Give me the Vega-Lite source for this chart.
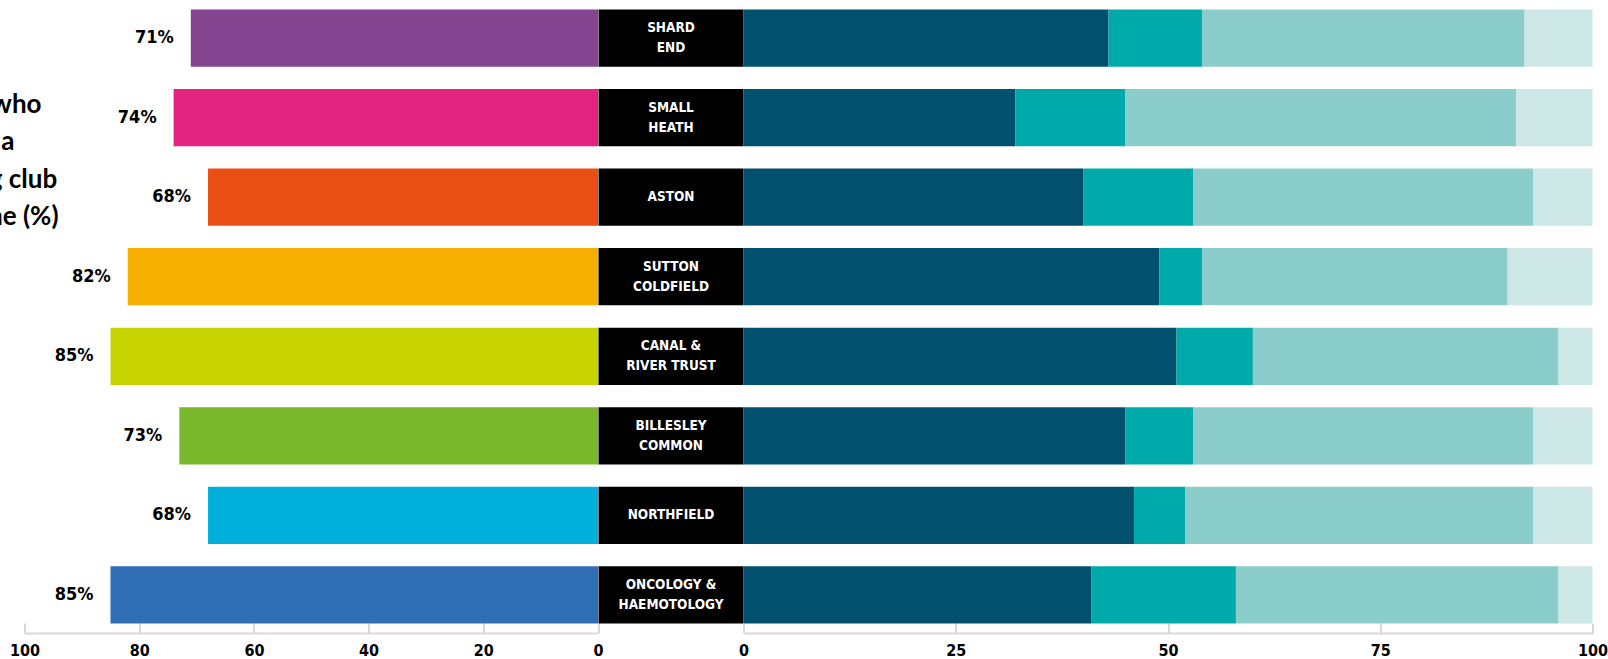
{
  "$schema": "https://vega.github.io/schema/vega-lite/v6.json",
  "autosize": {"type": "none"},
  "padding": {"left": 24.5, "top": 0, "right": 1583.5, "bottom": 659},
  "background": "white",
  "spacing": 0,
  "bounds": "flush",
  "resolve": {"scale": {"color": "independent", "x": "independent"}},
  "config": {
    "view": {"stroke": null},
    "concat": {"spacing": 0},
    "axisX": {
      "grid": false,
      "domainColor": "#d9d9d9",
      "domainWidth": 2,
      "tickColor": "#d9d9d9",
      "tickWidth": 2,
      "tickSize": -10,
      "labelFont": "Liberation Sans Narrow, DejaVu Sans Condensed, sans-serif",
      "labelFontWeight": "bold",
      "labelFontSize": 16,
      "labelColor": "#000000",
      "labelPadding": 19,
      "labelFlush": false,
      "title": null
    }
  },
  "datasets": {
    "sites": [
      {"site": "SHARD END", "label": "SHARD\nEND", "pct": 71},
      {"site": "SMALL HEATH", "label": "SMALL\nHEATH", "pct": 74},
      {"site": "ASTON", "label": "ASTON", "pct": 68},
      {"site": "SUTTON COLDFIELD", "label": "SUTTON\nCOLDFIELD", "pct": 82},
      {"site": "CANAL & RIVER TRUST", "label": "CANAL &\nRIVER TRUST", "pct": 85},
      {"site": "BILLESLEY COMMON", "label": "BILLESLEY\nCOMMON", "pct": 73},
      {"site": "NORTHFIELD", "label": "NORTHFIELD", "pct": 68},
      {"site": "ONCOLOGY & HAEMOTOLOGY", "label": "ONCOLOGY &\nHAEMOTOLOGY", "pct": 85}
    ],
    "split": [
      {"site": "SHARD END", "cat": "Group 1", "value": 43},
      {"site": "SHARD END", "cat": "Group 2", "value": 11},
      {"site": "SHARD END", "cat": "Group 3", "value": 38},
      {"site": "SHARD END", "cat": "Group 4", "value": 8},
      {"site": "SMALL HEATH", "cat": "Group 1", "value": 32},
      {"site": "SMALL HEATH", "cat": "Group 2", "value": 13},
      {"site": "SMALL HEATH", "cat": "Group 3", "value": 46},
      {"site": "SMALL HEATH", "cat": "Group 4", "value": 9},
      {"site": "ASTON", "cat": "Group 1", "value": 40},
      {"site": "ASTON", "cat": "Group 2", "value": 13},
      {"site": "ASTON", "cat": "Group 3", "value": 40},
      {"site": "ASTON", "cat": "Group 4", "value": 7},
      {"site": "SUTTON COLDFIELD", "cat": "Group 1", "value": 49},
      {"site": "SUTTON COLDFIELD", "cat": "Group 2", "value": 5},
      {"site": "SUTTON COLDFIELD", "cat": "Group 3", "value": 36},
      {"site": "SUTTON COLDFIELD", "cat": "Group 4", "value": 10},
      {"site": "CANAL & RIVER TRUST", "cat": "Group 1", "value": 51},
      {"site": "CANAL & RIVER TRUST", "cat": "Group 2", "value": 9},
      {"site": "CANAL & RIVER TRUST", "cat": "Group 3", "value": 36},
      {"site": "CANAL & RIVER TRUST", "cat": "Group 4", "value": 4},
      {"site": "BILLESLEY COMMON", "cat": "Group 1", "value": 45},
      {"site": "BILLESLEY COMMON", "cat": "Group 2", "value": 8},
      {"site": "BILLESLEY COMMON", "cat": "Group 3", "value": 40},
      {"site": "BILLESLEY COMMON", "cat": "Group 4", "value": 7},
      {"site": "NORTHFIELD", "cat": "Group 1", "value": 46},
      {"site": "NORTHFIELD", "cat": "Group 2", "value": 6},
      {"site": "NORTHFIELD", "cat": "Group 3", "value": 41},
      {"site": "NORTHFIELD", "cat": "Group 4", "value": 7},
      {"site": "ONCOLOGY & HAEMOTOLOGY", "cat": "Group 1", "value": 41},
      {"site": "ONCOLOGY & HAEMOTOLOGY", "cat": "Group 2", "value": 17},
      {"site": "ONCOLOGY & HAEMOTOLOGY", "cat": "Group 3", "value": 38},
      {"site": "ONCOLOGY & HAEMOTOLOGY", "cat": "Group 4", "value": 4}
    ]
  },
  "hconcat": [
    {
      "width": 573.5,
      "height": 633,
      "data": {"name": "sites"},
      "encoding": {
        "y": {
          "field": "site", "type": "nominal", "sort": null,
          "scale": {"paddingInner": 0.28, "paddingOuter": 0.12},
          "axis": {
            "labels": false, "ticks": false, "domain": false,
            "title": ["Share of participants who", "were regularly part of a", "local running or hiking club", "prior to the programme (%)"],
            "titleAngle": 0,
            "titleAlign": "left",
            "titleBaseline": "alphabetic",
            "titleX": -278,
            "titleY": 112,
            "titleLineHeight": 37.5,
            "titleFont": "Lato",
            "titleFontSize": 26,
            "titleFontWeight": "bold",
            "titleColor": "#000000"
          }
        },
        "x": {
          "field": "pct", "type": "quantitative",
          "scale": {"domain": [0, 100], "reverse": true},
          "axis": {"values": [0, 20, 40, 60, 80, 100]}
        }
      },
      "layer": [
        {
          "mark": {"type": "bar"},
          "encoding": {
            "color": {
              "field": "site", "type": "nominal", "sort": null, "legend": null,
              "scale": {
                "domain": ["SHARD END", "SMALL HEATH", "ASTON", "SUTTON COLDFIELD", "CANAL & RIVER TRUST", "BILLESLEY COMMON", "NORTHFIELD", "ONCOLOGY & HAEMOTOLOGY"],
                "range": ["#84448F", "#E2237F", "#E94E12", "#F8B000", "#C8D400", "#78B82A", "#00B0DA", "#2F6DB5"]
              }
            }
          }
        },
        {
          "mark": {
            "type": "text", "align": "right", "baseline": "middle", "dx": -17,
            "font": "Liberation Sans Narrow, DejaVu Sans Condensed, sans-serif",
            "fontWeight": "bold", "fontSize": 18, "color": "#000000",
            "text": {"expr": "datum.pct + '%'"}
          }
        }
      ]
    },
    {
      "width": 145,
      "height": 633,
      "data": {"name": "sites"},
      "encoding": {
        "y": {
          "field": "site", "type": "nominal", "sort": null,
          "scale": {"paddingInner": 0.28, "paddingOuter": 0.12},
          "axis": null
        }
      },
      "layer": [
        {
          "mark": {"type": "bar", "color": "#000000"},
          "encoding": {
            "x": {"datum": 0, "type": "quantitative", "scale": {"domain": [0, 1]}, "axis": null},
            "x2": {"datum": 1}
          }
        },
        {
          "mark": {
            "type": "text", "align": "center", "baseline": "middle",
            "lineBreak": "\n", "lineHeight": 20,
            "dy": {"expr": "indexof(datum.label, '\\n') >= 0 ? -10 : 0"},
            "font": "Liberation Sans Narrow, DejaVu Sans Condensed, sans-serif",
            "fontWeight": "bold", "fontSize": 13.5, "color": "#ffffff"
          },
          "encoding": {
            "x": {"datum": 0.5, "type": "quantitative", "scale": {"domain": [0, 1]}, "axis": null},
            "text": {"field": "label"}
          }
        }
      ]
    },
    {
      "width": 849,
      "height": 633,
      "data": {"name": "split"},
      "mark": {"type": "bar"},
      "encoding": {
        "y": {
          "field": "site", "type": "nominal", "sort": null,
          "scale": {"paddingInner": 0.28, "paddingOuter": 0.12},
          "axis": null
        },
        "x": {
          "field": "value", "type": "quantitative", "stack": "zero",
          "scale": {"domain": [0, 100]},
          "axis": {"values": [0, 25, 50, 75, 100]}
        },
        "color": {
          "field": "cat", "type": "nominal", "legend": null,
          "sort": ["Group 1", "Group 2", "Group 3", "Group 4"],
          "scale": {
            "domain": ["Group 1", "Group 2", "Group 3", "Group 4"],
            "range": ["#00506E", "#00AAAA", "#8ACDCB", "#CDE7E7"]
          }
        }
      }
    }
  ]
}
